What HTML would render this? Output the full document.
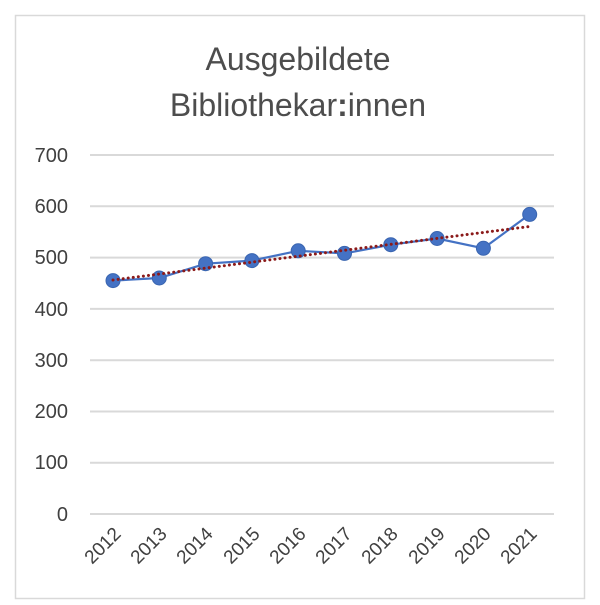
<!DOCTYPE html>
<html><head><meta charset="utf-8"><style>
html,body{margin:0;padding:0;background:#fff;}
</style></head><body>
<svg width="600" height="600" xmlns="http://www.w3.org/2000/svg" font-family="Liberation Sans, sans-serif">
<rect x="0" y="0" width="600" height="600" fill="#fff"/>
<rect x="15.5" y="15.5" width="569" height="583" fill="#fff" stroke="#d9d9d9" stroke-width="1.5"/>
<text x="298" y="70" font-size="32" fill="#4d4d4d" text-anchor="middle">Ausgebildete</text>
<text x="298" y="116" font-size="32" fill="#4d4d4d" text-anchor="middle">Bibliothekar<tspan font-weight="bold">:</tspan>innen</text>
<g stroke="#d9d9d9" stroke-width="2">
<line x1="90" x2="554" y1="155" y2="155"/>
<line x1="90" x2="554" y1="206.3" y2="206.3"/>
<line x1="90" x2="554" y1="257.6" y2="257.6"/>
<line x1="90" x2="554" y1="308.9" y2="308.9"/>
<line x1="90" x2="554" y1="360.2" y2="360.2"/>
<line x1="90" x2="554" y1="411.5" y2="411.5"/>
<line x1="90" x2="554" y1="462.8" y2="462.8"/>
<line x1="90" x2="554" y1="514" y2="514"/>
</g>
<g font-size="20" fill="#404040" text-anchor="end">
<text x="68" y="162">700</text>
<text x="68" y="213">600</text>
<text x="68" y="264">500</text>
<text x="68" y="316">400</text>
<text x="68" y="367">300</text>
<text x="68" y="418">200</text>
<text x="68" y="469">100</text>
<text x="68" y="521">0</text>
</g>
<g font-size="19" fill="#404040" text-anchor="end">
<text transform="translate(122,535) rotate(-45)">2012</text>
<text transform="translate(168,535) rotate(-45)">2013</text>
<text transform="translate(214,535) rotate(-45)">2014</text>
<text transform="translate(261,535) rotate(-45)">2015</text>
<text transform="translate(307,535) rotate(-45)">2016</text>
<text transform="translate(353,535) rotate(-45)">2017</text>
<text transform="translate(399,535) rotate(-45)">2018</text>
<text transform="translate(446,535) rotate(-45)">2019</text>
<text transform="translate(492,535) rotate(-45)">2020</text>
<text transform="translate(538,535) rotate(-45)">2021</text>
</g>
<polyline fill="none" stroke="#4472c4" stroke-width="2.2" points="113,280.6 159.3,278 205.6,263.7 251.9,260.6 298.2,250.8 344.5,253.4 390.8,244.7 437.1,238.5 483.4,248.3 529.7,214.4"/>
<g fill="#4472c4" stroke="#3a65b0" stroke-width="1">
<circle cx="113" cy="280.6" r="7"/>
<circle cx="159.3" cy="278" r="7"/>
<circle cx="205.6" cy="263.7" r="7"/>
<circle cx="251.9" cy="260.6" r="7"/>
<circle cx="298.2" cy="250.8" r="7"/>
<circle cx="344.5" cy="253.4" r="7"/>
<circle cx="390.8" cy="244.7" r="7"/>
<circle cx="437.1" cy="238.5" r="7"/>
<circle cx="483.4" cy="248.3" r="7"/>
<circle cx="529.7" cy="214.4" r="7"/>
</g>
<line x1="113" y1="280" x2="529.7" y2="226.5" stroke="#8b1a1a" stroke-width="3" stroke-dasharray="0.1 5" stroke-linecap="round"/>
</svg>
</body></html>
